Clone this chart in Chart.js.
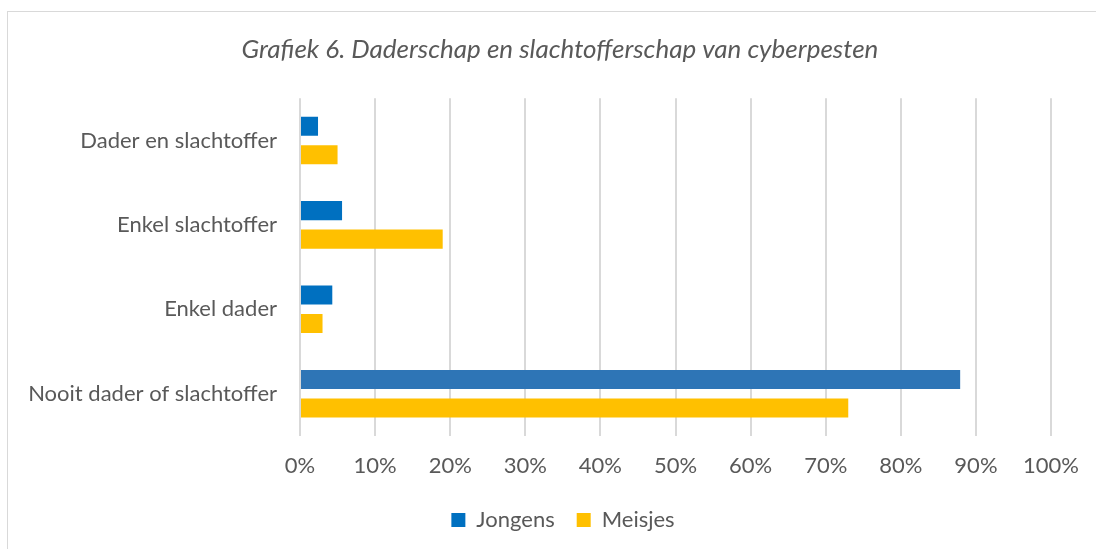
<!DOCTYPE html>
<html>
<head>
<meta charset="utf-8">
<script src="https://cdn.jsdelivr.net/npm/chart.js@4.4.1/dist/chart.umd.min.js"></script>
<style>
  html, body { margin: 0; padding: 0; background: #fff; }
  #wrap { position: relative; width: 1096px; height: 549px; overflow: hidden; }
  #frame { position: absolute; left: 7px; top: 11px; width: 1100px; height: 560px; border: 1.5px solid #D9D9D9; box-sizing: border-box; }
  canvas { position: absolute; left: 0; top: 0; }
</style>
</head>
<body>
<div id="wrap">
  <div id="frame"></div>
  <canvas id="c" width="1096" height="549"></canvas>
</div>
<script>
const categories = ["Dader en slachtoffer", "Enkel slachtoffer", "Enkel dader", "Nooit dader of slachtoffer"];
const jongens = [2.4, 5.6, 4.3, 87.9];
const meisjes = [5.0, 19.0, 3.0, 73.0];
const seriesNames = ["Jongens", "Meisjes"];
const titleText = "Grafiek 6. Daderschap en slachtofferschap van cyberpesten";

const FONT = "Lato, 'Open Sans', sans-serif";
const TXT = "#595959";

// Centre title and legend on the frame (as in the reference) and place legend below the axis
const centerShift = {
  id: 'centerShift',
  afterLayout(chart) {
    const dx = 560 - (chart.width - 43) / 2;
    const t = chart.titleBlock;
    if (t) { t.left += dx; t.right += dx; }
    const l = chart.legend;
    if (l) {
      const w = l.width;
      l.left = 563 - w / 2; l.right = l.left + w;
      l.top = 487; l.bottom = l.top + 60;
      l.height = 60;
    }
  }
};

new Chart(document.getElementById('c'), {
  type: 'bar',
  data: {
    labels: categories,
    datasets: [
      {
        label: seriesNames[0],
        data: jongens,
        backgroundColor: (ctx) => (ctx.dataIndex === 3 ? '#2E75B6' : '#0070C0'),
        categoryPercentage: 0.675,
        barPercentage: 0.667
      },
      {
        label: seriesNames[1],
        data: meisjes,
        backgroundColor: '#FFC000',
        categoryPercentage: 0.675,
        barPercentage: 0.667
      }
    ]
  },
  plugins: [centerShift],
  options: {
    indexAxis: 'y',
    responsive: false,
    animation: false,
    layout: { padding: { left: 0, right: 43, top: 0, bottom: 62 } },
    plugins: {
      tooltip: { enabled: false },
      title: {
        display: true,
        text: titleText,
        color: TXT,
        font: { family: FONT, size: 26, style: 'italic', weight: 'normal' },
        padding: { top: 34, bottom: 33 }
      },
      legend: {
        position: 'bottom',
        maxHeight: 1,
        labels: {
          color: TXT,
          font: { family: FONT, size: 22 },
          boxWidth: 14,
          boxHeight: 14,
          padding: 22
        }
      }
    },
    scales: {
      x: {
        min: 0,
        max: 100,
        ticks: {
          stepSize: 10,
          color: TXT,
          font: { family: FONT, size: 22 },
          padding: 17,
          callback: (v) => v + '%'
        },
        grid: { color: '#D9D9D9', lineWidth: 2, drawTicks: false },
        border: { display: false },
        afterFit: (scale) => { scale.height = 50; }
      },
      y: {
        ticks: {
          color: TXT,
          font: { family: FONT, size: 22 },
          padding: 23
        },
        grid: { display: false, drawTicks: false },
        border: { display: false },
        afterFit: (scale) => { scale.width = 300; }
      }
    }
  }
});
</script>
</body>
</html>
